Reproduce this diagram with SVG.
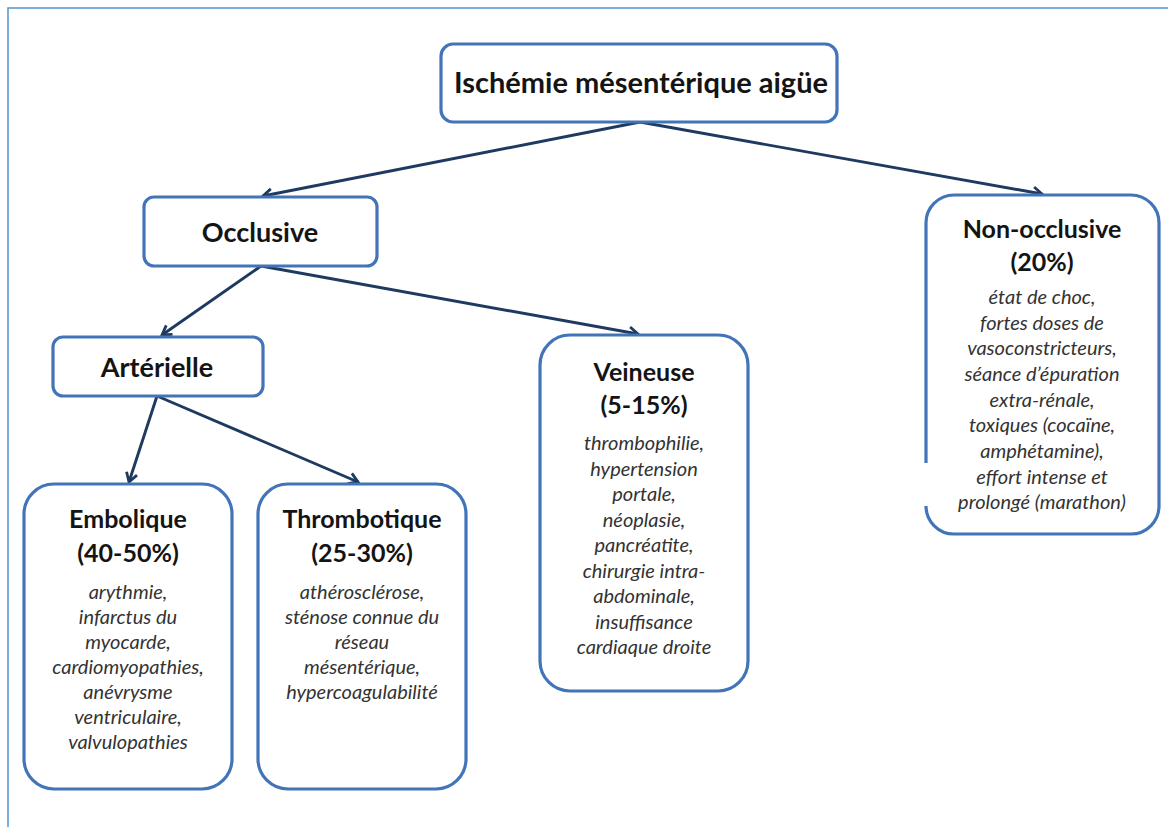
<svg xmlns="http://www.w3.org/2000/svg" width="1168" height="827" viewBox="0 0 1168 827">
<style>
.box{fill:#ffffff;stroke:#4274b8;stroke-width:3.2}
.conn{stroke:#1f3a60;stroke-width:2.9;fill:none}
.t{font-family:Lato,"Liberation Sans",sans-serif;font-weight:bold;font-size:25px;fill:#141414;text-anchor:middle}
.big{font-size:29px}
.mid{font-size:27px}
.i{font-family:Lato,"Liberation Sans",sans-serif;font-style:italic;font-size:20px;fill:#333333;text-anchor:middle}
</style>
<defs>
<marker id="arr" markerWidth="16" markerHeight="16" refX="13" refY="8" orient="auto" markerUnits="userSpaceOnUse">
<path d="M4,2.5 L13,8 L4,13.5" fill="none" stroke="#1f3a60" stroke-width="2.8"/>
</marker>
</defs>
<rect x="0" y="0" width="1168" height="827" fill="#ffffff"/>
<rect id="frame" x="8" y="8" width="1175" height="840" fill="none" stroke="#5b9bd5" stroke-width="1.6"/>
<g id="connectors">
<line class="conn" x1="640" y1="122" x2="263" y2="196" marker-end="url(#arr)"/>
<line class="conn" x1="640" y1="122" x2="1042" y2="194" marker-end="url(#arr)"/>
<line class="conn" x1="261" y1="266" x2="162" y2="335" marker-end="url(#arr)"/>
<line class="conn" x1="261" y1="266" x2="638" y2="334" marker-end="url(#arr)"/>
<line class="conn" x1="157" y1="396" x2="129" y2="482" marker-end="url(#arr)"/>
<line class="conn" x1="157" y1="396" x2="358" y2="482" marker-end="url(#arr)"/>
</g>
<g id="root">
<rect class="box" x="441" y="44" width="396" height="78" rx="12"/>
<text class="t big" x="641" y="93">Ischémie mésentérique aigüe</text>
</g>
<g id="occlusive">
<rect class="box" x="144" y="197" width="233" height="69" rx="10"/>
<text class="t mid" x="260" y="242">Occlusive</text>
</g>
<g id="arterielle">
<rect class="box" x="53" y="337" width="210" height="59" rx="10"/>
<text class="t mid" x="157" y="377">Artérielle</text>
</g>
<g id="non-occlusive">
<path class="box" d="M926,463 V223 A28,28 0 0 1 954,195 H1131 A28,28 0 0 1 1159,223 V506 A28,28 0 0 1 1131,534 H954 A28,28 0 0 1 926,506"/>
<text class="t" x="1042" y="238">Non-occlusive</text>
<text class="t" x="1042" y="271">(20%)</text>
<text class="i" x="1042" y="304">état de choc,</text>
<text class="i" x="1042" y="330">fortes doses de</text>
<text class="i" x="1042" y="355">vasoconstricteurs,</text>
<text class="i" x="1042" y="381">séance d’épuration</text>
<text class="i" x="1042" y="407">extra-rénale,</text>
<text class="i" x="1042" y="432">toxiques (cocaïne,</text>
<text class="i" x="1042" y="458">amphétamine),</text>
<text class="i" x="1042" y="484">effort intense et</text>
<text class="i" x="1042" y="509">prolongé (marathon)</text>
</g>
<g id="veineuse">
<rect class="box" x="540" y="335" width="208" height="356" rx="30"/>
<text class="t" x="644" y="381">Veineuse</text>
<text class="t" x="644" y="414">(5-15%)</text>
<text class="i" x="644" y="450">thrombophilie,</text>
<text class="i" x="644" y="476">hypertension</text>
<text class="i" x="644" y="501">portale,</text>
<text class="i" x="644" y="527">néoplasie,</text>
<text class="i" x="644" y="552">pancréatite,</text>
<text class="i" x="644" y="578">chirurgie intra-</text>
<text class="i" x="644" y="603">abdominale,</text>
<text class="i" x="644" y="629">insuffisance</text>
<text class="i" x="644" y="654">cardiaque droite</text>
</g>
<g id="embolique">
<rect class="box" x="24" y="484" width="208" height="305" rx="30"/>
<text class="t" x="128" y="528">Embolique</text>
<text class="t" x="128" y="562">(40-50%)</text>
<text class="i" x="128" y="599">arythmie,</text>
<text class="i" x="128" y="624">infarctus du</text>
<text class="i" x="128" y="649">myocarde,</text>
<text class="i" x="128" y="674">cardiomyopathies,</text>
<text class="i" x="128" y="699">anévrysme</text>
<text class="i" x="128" y="724">ventriculaire,</text>
<text class="i" x="128" y="749">valvulopathies</text>
</g>
<g id="thrombotique">
<rect class="box" x="258" y="484" width="208" height="305" rx="30"/>
<text class="t" x="362" y="528">Thrombotique</text>
<text class="t" x="362" y="562">(25-30%)</text>
<text class="i" x="362" y="599">athérosclérose,</text>
<text class="i" x="362" y="624">sténose connue du</text>
<text class="i" x="362" y="649">réseau</text>
<text class="i" x="362" y="674">mésentérique,</text>
<text class="i" x="362" y="699">hypercoagulabilité</text>
</g>
</svg>
